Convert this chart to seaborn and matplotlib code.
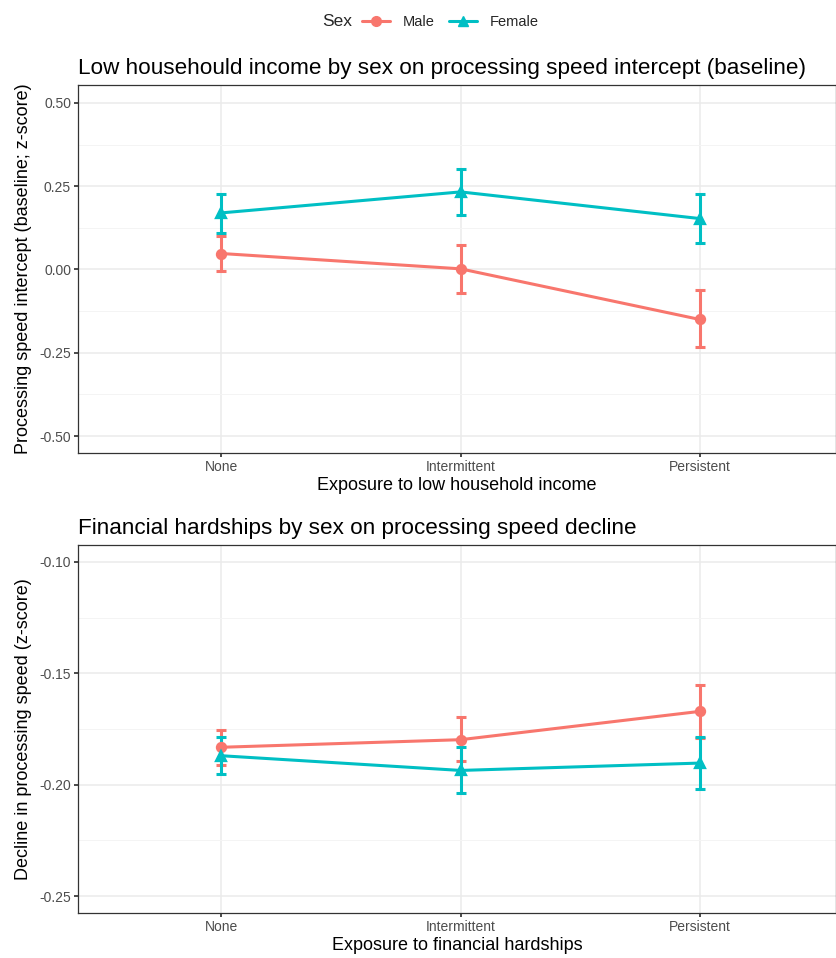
import numpy as np
import pandas as pd
import matplotlib
matplotlib.use("Agg")
import matplotlib.pyplot as plt
import seaborn as sns
from matplotlib.lines import Line2D

# categories and groups
exposure = ["None", "Intermittent", "Persistent"]
sexes = ["Male", "Female"]
colors = {"Male": "#F8766D", "Female": "#00BFC4"}
markers = {"Male": "o", "Female": "^"}

# top panel: low household income -> intercept
inc_male = [0.048, 0.002, -0.150]
inc_male_lo = [-0.005, -0.071, -0.234]
inc_male_hi = [0.102, 0.074, -0.063]
inc_female = [0.170, 0.233, 0.153]
inc_female_lo = [0.109, 0.163, 0.079]
inc_female_hi = [0.226, 0.303, 0.226]

# bottom panel: financial hardships -> decline
fin_male = [-0.1832, -0.1798, -0.1671]
fin_male_lo = [-0.1910, -0.1894, -0.1790]
fin_male_hi = [-0.1753, -0.1696, -0.1551]
fin_female = [-0.1870, -0.1936, -0.1903]
fin_female_lo = [-0.1952, -0.2037, -0.2019]
fin_female_hi = [-0.1788, -0.1832, -0.1786]

top_ticks = [0.50, 0.25, 0.00, -0.25, -0.50]
top_ticklabels = ["0.50", "0.25", "0.00", "-0.25", "-0.50"]
bot_ticks = [-0.10, -0.15, -0.20, -0.25]
bot_ticklabels = ["-0.10", "-0.15", "-0.20", "-0.25"]

sns.set_theme(style="white")
plt.rcParams['font.family'] = ['Liberation Sans', 'DejaVu Sans']

fig = plt.figure(figsize=(8.36, 9.58), dpi=100)
W, H = 836, 958
ax1 = fig.add_axes([78 / W, 1 - 453 / H, 758 / W, 368 / H])
ax2 = fig.add_axes([78 / W, 1 - 913 / H, 758 / W, 368 / H])


def panel(ax, male, male_lo, male_hi, female, female_lo, female_hi,
          ylim, ticks, ticklabels, minor, title, xlabel, ylabel):
    df = pd.DataFrame({
        "exposure": exposure * 2,
        "sex": ["Male"] * 3 + ["Female"] * 3,
        "value": list(male) + list(female),
    })
    xs = np.arange(len(exposure))
    for sex, m, lo, hi in [("Male", male, male_lo, male_hi),
                           ("Female", female, female_lo, female_hi)]:
        m = np.array(m)
        ax.errorbar(xs, m, yerr=[m - np.array(lo), np.array(hi) - m],
                    fmt="none", ecolor=colors[sex], elinewidth=2.2,
                    capsize=3.4, capthick=2.2, zorder=3)
    sns.pointplot(data=df, x="exposure", y="value", hue="sex",
                  order=exposure, hue_order=sexes, palette=colors,
                  markers=[markers[s] for s in sexes], linestyles="-",
                  markersize=6.5, linewidth=2.2, errorbar=None,
                  legend=False, ax=ax, zorder=4)
    ax.set_xlim(-0.6, 2.57)
    ax.set_ylim(*ylim)
    ax.set_yticks(ticks)
    ax.set_yticklabels(ticklabels)
    ax.set_yticks(minor, minor=True)
    ax.grid(True, which="major", color="#EBEBEB", linewidth=1.1, zorder=0)
    ax.grid(True, which="minor", axis="y", color="#F4F4F4", linewidth=0.7, zorder=0)
    ax.set_axisbelow(True)
    for s in ax.spines.values():
        s.set_color("#333333")
        s.set_linewidth(0.9)
    ax.tick_params(axis="both", which="major", length=3, color="#333333",
                   labelsize=10, labelcolor="#4D4D4D", pad=2, left=True, bottom=True)
    ax.tick_params(axis="y", which="minor", length=0)
    ax.set_title(title, loc="left", fontsize=16.2, color="black", pad=8)
    ax.set_xlabel(xlabel, fontsize=13, color="black", labelpad=2)
    ax.set_ylabel(ylabel, fontsize=13, color="black", labelpad=5)


panel(ax1, inc_male, inc_male_lo, inc_male_hi,
      inc_female, inc_female_lo, inc_female_hi,
      (-0.551, 0.554), top_ticks, top_ticklabels, [0.375, 0.125, -0.125, -0.375],
      "Low househould income by sex on processing speed intercept (baseline)",
      "Exposure to low household income",
      "Processing speed intercept (baseline; z-score)")

panel(ax2, fin_male, fin_male_lo, fin_male_hi,
      fin_female, fin_female_lo, fin_female_hi,
      (-0.2576, -0.0924), bot_ticks, bot_ticklabels, [-0.125, -0.175, -0.225],
      "Financial hardships by sex on processing speed decline",
      "Exposure to financial hardships",
      "Decline in processing speed (z-score)")

# legend at top
handles = [Line2D([0], [0], color=colors[s], marker=markers[s], linewidth=2.2,
                  markersize=7) for s in sexes]
fig.text(322 / W, 1 - 22 / H, "Sex", fontsize=12.5, va="center", ha="left")
fig.legend(handles, sexes, loc="center left", bbox_to_anchor=(362 / W, 1 - 22 / H),
           ncol=2, frameon=False, fontsize=10.5, handlelength=1.9,
           columnspacing=1.0, handletextpad=0.9, borderaxespad=0, borderpad=0)

fig.savefig("out.png", dpi=100)
